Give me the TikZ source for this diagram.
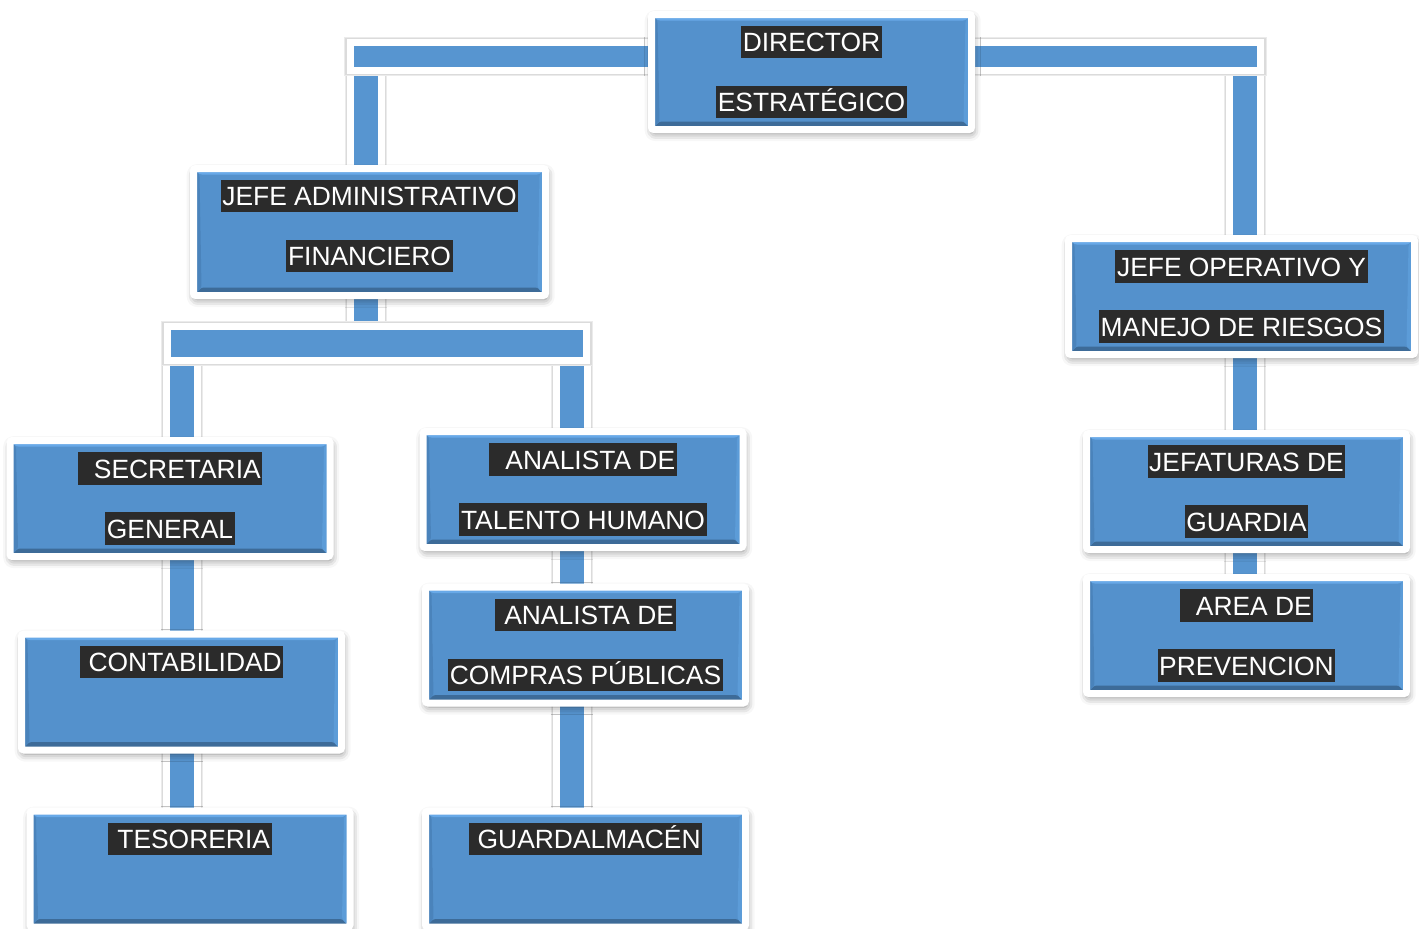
\documentclass[tikz,border=0pt]{standalone}
\usepackage{fontspec}
\setmainfont{Liberation Sans}
\usepackage{tikz}
\usetikzlibrary{positioning,calc,shadows.blur}

\definecolor{boxblue}{HTML}{5491CC}
\definecolor{bevtop}{HTML}{68A9E8}
\definecolor{bevbot}{HTML}{3D6B98}
\definecolor{bevleft}{HTML}{4A83BB}
\definecolor{bevright}{HTML}{5C9CD8}
\definecolor{barblue}{HTML}{5795D0}
\definecolor{hlgray}{HTML}{2B2B2B}

\pgfdeclarelayer{bg}
\pgfsetlayers{bg,main}

\newcommand{\hl}[1]{{\setlength{\fboxsep}{0.8pt}\colorbox{hlgray}{\rule[-2.5pt]{0pt}{14.5pt}#1}}}
\newcommand{\nix}{\rule[-3.3pt]{0pt}{3.3pt}}

\tikzset{
  unit/.style={rectangle, rounded corners=1.2pt, draw=white, line width=3.5pt,
    fill=boxblue, minimum width=160pt, minimum height=58pt, inner sep=0pt,
    align=center, text=white, font=\fontsize{13.2}{30}\selectfont,
    blur shadow={shadow xshift=0.6pt, shadow yshift=-1.8pt,
      shadow blur radius=4pt, shadow opacity=50},
    path picture={
      \fill[bevbot] (path picture bounding box.south west) -- (path picture bounding box.south east)
        -- ([shift={(-4pt,4pt)}]path picture bounding box.south east)
        -- ([shift={(4pt,4pt)}]path picture bounding box.south west) -- cycle;
      \fill[bevtop] (path picture bounding box.north west) -- (path picture bounding box.north east)
        -- ([shift={(-3pt,-3pt)}]path picture bounding box.north east)
        -- ([shift={(3pt,-3pt)}]path picture bounding box.north west) -- cycle;
      \fill[bevleft] (path picture bounding box.north west) -- (path picture bounding box.south west)
        -- ([shift={(4pt,4pt)}]path picture bounding box.south west)
        -- ([shift={(3pt,-3pt)}]path picture bounding box.north west) -- cycle;
      \fill[bevright] (path picture bounding box.north east) -- (path picture bounding box.south east)
        -- ([shift={(-4pt,4pt)}]path picture bounding box.south east)
        -- ([shift={(-3pt,-3pt)}]path picture bounding box.north east) -- cycle;
    }},
  vbar/.style={draw=white, line width=3.5pt, double=barblue, double distance=12pt,
    preaction={draw=black!8, line width=21pt},
    preaction={draw=black!14, line width=20pt}},
  hbar/.style={draw=white, line width=3.5pt, double=barblue, double distance=#1,
    preaction={draw=black!8, line width=#1+9pt, shorten <=-5pt, shorten >=-5pt},
    preaction={draw=black!14, line width=#1+8pt, shorten <=-4.5pt, shorten >=-4.5pt},
    preaction={draw=white, line width=#1+7pt, shorten <=-3.5pt, shorten >=-3.5pt}},
  hbar/.default=10.5pt
}

\begin{document}
\begin{tikzpicture}[x=0.5pt, y=-0.5pt]
\useasboundingbox (0,0) rectangle (1419,928);

\node[unit, minimum height=57.5pt] (dir) at (811.5,72) {\hl{DIRECTOR}\\\hl{ESTRATÉGICO}};
\node[unit, minimum width=176pt, minimum height=63.5pt] (adm) at (369.5,232) {\hl{JEFE ADMINISTRATIVO}\\\hl{FINANCIERO}\rule[-9.3pt]{0pt}{9.3pt}};
\node[unit, minimum width=173pt] (jop) at (1241.5,296.5) {\hl{JEFE OPERATIVO Y}\\\hl{MANEJO DE RIESGOS}};
\node[unit] (sec) at (170,498.5) {\hl{~~SECRETARIA}\\\hl{GENERAL}};
\node[unit] (tal) at (583,489.5) {\hl{~~ANALISTA DE}\\\hl{TALENTO HUMANO}};
\node[unit] (cont) at (181.5,692) {\hl{~CONTABILIDAD}\\\nix};
\node[unit] (comp) at (585.5,645) {\hl{~ANALISTA DE}\\\hl{COMPRAS PÚBLICAS}};
\node[unit] (teso) at (190,869) {\hl{~TESORERIA}\\\nix};
\node[unit] (guard) at (585.5,869) {\hl{~GUARDALMACÉN}\\\nix};
\node[unit] (jgu) at (1246.5,491.5) {\hl{JEFATURAS DE}\\\hl{GUARDIA}};
\node[unit] (area) at (1246.5,635.5) {\hl{~~AREA DE}\\\hl{PREVENCION}};

\coordinate (k1) at (365.5,56.5);
\coordinate (k2) at (1245,56.5);
\coordinate (k3) at (181.5,343.5);
\coordinate (k4) at (571.5,343.5);

\begin{pgfonlayer}{bg}
\draw[vbar] (k1) -- (k3 -| k1);
\draw[vbar] (k2) -- (area -| k2);
\draw[vbar] (k3) -- (teso -| k3);
\draw[vbar] (k4) -- (guard -| k4);
\draw[hbar] ($(k1)+(-11.5,0)$) -- ($(k2)+(12,0)$);
\draw[hbar=13.5pt] ($(k3)+(-10.5,0)$) -- ($(k4)+(11.5,0)$);
\end{pgfonlayer}
\end{tikzpicture}
\end{document}
